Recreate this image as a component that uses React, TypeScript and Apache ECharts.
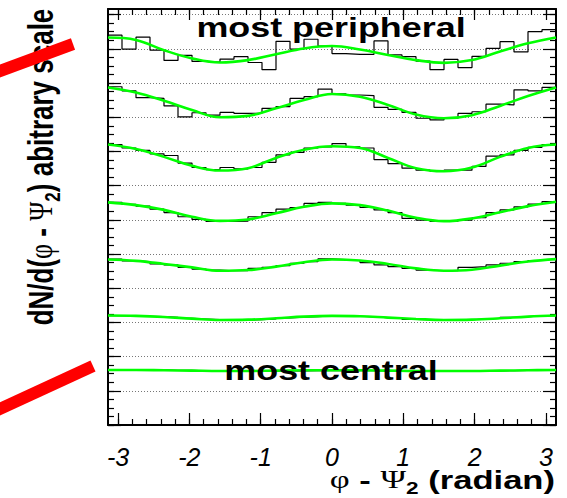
import React, { useEffect, useRef } from "react";
import * as echarts from "echarts";

const PI = Math.PI;

// axis ticks / labels
const xMajorTicks = [-3, -2, -1, 0, 1, 2, 3];
const xTickLabels = ["-3", "-2", "-1", "0", "1", "2", "3"];
const yMajorTicks = [0, 1, 2, 3, 4, 5, 6, 7, 8, 9, 10, 11, 12];
const yMax = 12.164;
const nBins = 32;

// histograms (most peripheral -> most central), 32 bins over [-pi, pi]
const hist1 = [11.40, 10.99, 11.34, 10.96, 10.66, 10.81, 10.63, 10.61, 10.70, 10.77, 10.60, 10.39, 11.22, 10.99, 11.28, 11.08, 10.86, 10.84, 10.84, 11.23, 10.82, 10.77, 10.64, 10.39, 10.69, 10.45, 10.78, 11.01, 11.21, 10.91, 11.50, 11.56];
const hist2 = [9.89, 9.77, 9.57, 9.55, 9.33, 9.01, 9.13, 9.06, 9.14, 9.11, 9.12, 9.26, 9.31, 9.55, 9.60, 9.82, 9.68, 9.65, 9.63, 9.29, 9.23, 9.14, 8.97, 8.92, 8.97, 9.11, 9.16, 9.38, 9.36, 9.80, 9.77, 9.87];
const hist3 = [8.20, 8.10, 8.03, 7.93, 7.88, 7.66, 7.53, 7.47, 7.53, 7.49, 7.53, 7.68, 7.90, 7.97, 8.10, 8.13, 8.23, 8.13, 8.10, 7.76, 7.64, 7.51, 7.45, 7.42, 7.45, 7.45, 7.56, 7.86, 7.90, 8.03, 8.12, 8.20];
const hist4 = [6.51, 6.45, 6.40, 6.31, 6.21, 6.09, 6.01, 5.95, 5.95, 5.96, 6.09, 6.21, 6.31, 6.36, 6.48, 6.51, 6.48, 6.43, 6.36, 6.29, 6.21, 6.04, 5.99, 5.95, 5.96, 5.99, 6.06, 6.21, 6.29, 6.38, 6.46, 6.53];
const hist5 = [4.85, 4.80, 4.78, 4.71, 4.68, 4.61, 4.56, 4.53, 4.51, 4.51, 4.58, 4.61, 4.66, 4.73, 4.78, 4.86, 4.84, 4.81, 4.75, 4.68, 4.63, 4.58, 4.53, 4.51, 4.51, 4.61, 4.63, 4.68, 4.73, 4.78, 4.81, 4.84];
const hist6 = [3.20, 3.19, 3.18, 3.17, 3.15, 3.12, 3.10, 3.08, 3.07, 3.07, 3.08, 3.10, 3.13, 3.15, 3.17, 3.19, 3.19, 3.18, 3.16, 3.14, 3.12, 3.09, 3.08, 3.07, 3.07, 3.08, 3.10, 3.12, 3.15, 3.17, 3.19, 3.20];
const hist7 = [1.61, 1.61, 1.60, 1.61, 1.60, 1.60, 1.58, 1.58, 1.58, 1.57, 1.58, 1.58, 1.59, 1.58, 1.59, 1.60, 1.59, 1.60, 1.59, 1.58, 1.58, 1.57, 1.58, 1.57, 1.58, 1.58, 1.59, 1.58, 1.59, 1.60, 1.60, 1.60];

// fitted curves sampled every pi/8 from -pi to pi
const fit1 = [11.33, 11.26, 10.96, 10.72, 10.60, 10.67, 10.84, 11.01, 11.08, 10.98, 10.82, 10.67, 10.59, 10.67, 10.92, 11.16, 11.33];
const fit2 = [9.87, 9.72, 9.48, 9.21, 9.00, 9.04, 9.26, 9.50, 9.68, 9.60, 9.36, 9.08, 8.97, 9.06, 9.33, 9.62, 9.87];
const fit3 = [8.20, 8.07, 7.84, 7.58, 7.44, 7.51, 7.81, 8.05, 8.15, 8.10, 7.81, 7.51, 7.42, 7.53, 7.84, 8.10, 8.20];
const fit4 = [6.51, 6.43, 6.29, 6.09, 5.97, 6.01, 6.19, 6.38, 6.48, 6.43, 6.27, 6.06, 5.96, 6.04, 6.22, 6.40, 6.53];
const fit5 = [4.84, 4.80, 4.71, 4.61, 4.51, 4.53, 4.63, 4.76, 4.84, 4.81, 4.71, 4.58, 4.51, 4.54, 4.66, 4.78, 4.85];
const fit6 = [3.20, 3.19, 3.16, 3.11, 3.07, 3.08, 3.12, 3.17, 3.19, 3.18, 3.14, 3.10, 3.07, 3.08, 3.12, 3.17, 3.20];
const fit7 = [1.61, 1.61, 1.60, 1.59, 1.58, 1.58, 1.59, 1.60, 1.60, 1.60, 1.59, 1.58, 1.58, 1.58, 1.59, 1.60, 1.61];

const histograms = [hist1, hist2, hist3, hist4, hist5, hist6, hist7];
const fits = [fit1, fit2, fit3, fit4, fit5, fit6, fit7];

const binEdges = Array.from({ length: nBins + 1 }, (_, k) => -PI + (k * 2 * PI) / nBins);
const fitPhi = Array.from({ length: 17 }, (_, k) => -PI + (k * PI) / 8);
const xMinorTicks = Array.from({ length: 31 }, (_, k) => Math.round((-3 + k * 0.2) * 10) / 10);
const yMinorTicks = Array.from({ length: 49 }, (_, k) => k * 0.25);

const FONT = '"Liberation Sans", Arial, Helvetica, sans-serif';
const SERIF = '"Liberation Serif", "DejaVu Serif", serif';

export default function App() {
  const ref = useRef<HTMLDivElement>(null);

  useEffect(() => {
    if (!ref.current) return;
    const chart = echarts.init(ref.current, null, { renderer: "svg" });

    const baseX: any = { type: "value", min: -PI, max: PI, splitLine: { show: false } };
    const baseY: any = { type: "value", min: 0, max: yMax, interval: 1 };
    const black = { color: "#000", width: 1.2 };
    const frameLine = { show: true, onZero: false, lineStyle: { color: "#000", width: 2 } };
    const noLine = { show: false, onZero: false };

    const xAxis = [
      {
        ...baseX,
        position: "bottom",
        axisLine: frameLine,
        axisTick: { show: true, inside: true, length: 12, customValues: xMajorTicks, lineStyle: black },
        axisLabel: {
          show: true,
          customValues: xMajorTicks,
          formatter: (v: number) => xTickLabels[xMajorTicks.indexOf(Math.round(v))] ?? "",
          margin: 19,
          color: "#000",
          fontFamily: FONT,
          fontStyle: "italic",
          fontSize: 25,
        },
      },
      {
        ...baseX,
        position: "bottom",
        axisLine: noLine,
        axisTick: { show: true, inside: true, length: 6, customValues: xMinorTicks, lineStyle: black },
        axisLabel: { show: false },
      },
      {
        ...baseX,
        position: "top",
        axisLine: frameLine,
        axisTick: { show: true, inside: true, length: 11, customValues: xMajorTicks, lineStyle: black },
        axisLabel: { show: false },
      },
      {
        ...baseX,
        position: "top",
        axisLine: noLine,
        axisTick: { show: true, inside: true, length: 6, customValues: xMinorTicks, lineStyle: black },
        axisLabel: { show: false },
      },
    ];

    const yAxis = [
      {
        ...baseY,
        position: "left",
        axisLine: frameLine,
        axisTick: { show: true, inside: true, length: 13, customValues: yMajorTicks, lineStyle: black },
        axisLabel: { show: false },
        splitLine: { show: true, lineStyle: { color: "#777", width: 1, type: [1, 2] } },
      },
      {
        ...baseY,
        position: "left",
        axisLine: noLine,
        axisTick: { show: true, inside: true, length: 6, customValues: yMinorTicks, lineStyle: black },
        axisLabel: { show: false },
        splitLine: { show: false },
      },
      {
        ...baseY,
        position: "right",
        axisLine: frameLine,
        axisTick: { show: true, inside: true, length: 13, customValues: yMajorTicks, lineStyle: black },
        axisLabel: { show: false },
        splitLine: { show: false },
      },
      {
        ...baseY,
        position: "right",
        axisLine: noLine,
        axisTick: { show: true, inside: true, length: 6, customValues: yMinorTicks, lineStyle: black },
        axisLabel: { show: false },
        splitLine: { show: false },
      },
    ];

    const histSeries = histograms.map((h, i) => ({
      type: "line",
      name: "hist" + (i + 1),
      step: "end",
      symbol: "none",
      xAxisIndex: 0,
      yAxisIndex: 0,
      z: 3,
      lineStyle: { color: "#000", width: 1.2 },
      data: h.map((v, k) => [binEdges[k], v]).concat([[binEdges[nBins], h[nBins - 1]]]),
    }));

    const fitSeries = fits.map((f, i) => ({
      type: "line",
      name: "fit" + (i + 1),
      smooth: 0.4,
      symbol: "none",
      xAxisIndex: 0,
      yAxisIndex: 0,
      z: 4,
      lineStyle: { color: "#00ff00", width: 2.6 },
      data: f.map((v, k) => [fitPhi[k], v]),
    }));

    const titleRich = {
      b: { fontFamily: FONT, fontWeight: "bold", fontSize: 26, lineHeight: 34, fill: "#000", color: "#000" },
      g: { fontFamily: SERIF, fontWeight: "normal", fontSize: 26, lineHeight: 34, fill: "#000", color: "#000" },
      s: { fontFamily: FONT, fontWeight: "bold", fontSize: 17, lineHeight: 20, verticalAlign: "bottom", fill: "#000", color: "#000" },
    };

    chart.setOption({
      animation: false,
      backgroundColor: "#fff",
      grid: { left: 108, right: 11, top: 9, bottom: 73, containLabel: false },
      xAxis,
      yAxis,
      series: [...histSeries, ...fitSeries],
      graphic: [
        {
          type: "text",
          x: 331,
          y: 28,
          scaleX: 1.33,
          z: 100,
          style: {
            text: "most peripheral",
            fontFamily: FONT,
            fontWeight: "bold",
            fontSize: 27,
            fill: "#000",
            align: "center",
            verticalAlign: "middle",
            textAlign: "center",
            textVerticalAlign: "middle",
          },
        },
        {
          type: "text",
          x: 331,
          y: 371,
          scaleX: 1.33,
          z: 100,
          style: {
            text: "most central",
            fontFamily: FONT,
            fontWeight: "bold",
            fontSize: 27,
            fill: "#000",
            align: "center",
            verticalAlign: "middle",
            textAlign: "center",
            textVerticalAlign: "middle",
          },
        },
        {
          type: "text",
          x: 41,
          y: 167,
          rotation: PI / 2,
          scaleY: 1.33,
          z: 100,
          style: {
            text: "{b|dN/d(}{g|φ}{b| - }{g|Ψ}{s|2}{b|) abitrary scale}",
            rich: titleRich,
            align: "center",
            verticalAlign: "middle",
            textAlign: "center",
            textVerticalAlign: "middle",
          },
        },
        {
          type: "text",
          x: 555,
          y: 480,
          scaleX: 1.33,
          z: 100,
          style: {
            text: "{g|φ}{b| - }{g|Ψ}{s|2}{b| (radian)}",
            rich: titleRich,
            align: "right",
            verticalAlign: "middle",
            textAlign: "right",
            textVerticalAlign: "middle",
          },
        },
        {
          type: "line",
          z: 200,
          shape: { x1: -10, y1: 74.7, x2: 73, y2: 44 },
          style: { stroke: "#ff0000", lineWidth: 12 },
        },
        {
          type: "line",
          z: 200,
          shape: { x1: -10, y1: 413.6, x2: 93, y2: 366 },
          style: { stroke: "#ff0000", lineWidth: 12 },
        },
      ],
    });

    return () => chart.dispose();
  }, []);

  return (
    <div
      ref={ref}
      style={{ position: "absolute", left: 0, top: 0, width: 567, height: 498 }}
    />
  );
}
